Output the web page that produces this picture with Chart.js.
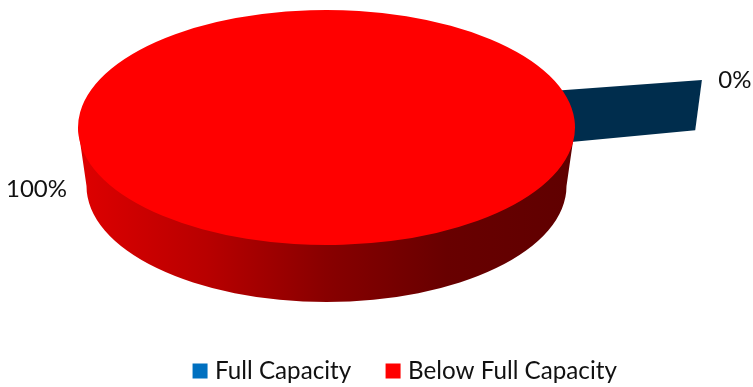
<!DOCTYPE html>
<html>
<head>
<meta charset="utf-8">
<title>Capacity</title>
<style>
    html, body { margin: 0; padding: 0; background: #fff; }
    #wrap { width: 753px; height: 387px; }
</style>
<script src="https://cdn.jsdelivr.net/npm/chart.js@4/dist/chart.umd.min.js"></script>
</head>
<body>
<div id="wrap"><canvas id="capacityChart" width="753" height="387"></canvas></div>
<script>
// Chart values
const categories = ['Full Capacity', 'Below Full Capacity'];
const shares = [0, 100];
const legendColors = ['#0070C0', '#FF0000'];
const sideColor = '#002D4D';

// Disc shape: top face and the slightly narrower bottom face
const topFace = { x: 326.5, y: 127.5, rx: 248.5, ry: 117.5 };
const bottomFace = { x: 326.5, y: 186, rx: 240, ry: 116 };

// Pulled-out side of the empty slice, as polar offsets from its start angle
const sideCorners = [
    { face: topFace, turn: -4.2, reach: 0.931 },
    { face: topFace, turn: 0, reach: 1.564 },
    { face: bottomFace, turn: -2.4, reach: 1.61 },
    { face: bottomFace, turn: -6.2, reach: 0.999 }
];

function onFace(face, angle, reach) {
    return {
        x: face.x + Math.cos(angle) * face.rx * reach,
        y: face.y + Math.sin(angle) * face.ry * reach
    };
}

const disc3d = {
    id: 'disc3d',
    beforeDatasetsDraw(chart) {
        const ctx = chart.ctx;
        const arc = chart.getDatasetMeta(0).data[0];

        // Side of the empty slice
        ctx.beginPath();
        sideCorners.forEach(c => {
            const p = onFace(c.face, arc.startAngle + c.turn * Math.PI / 180, c.reach);
            ctx.lineTo(p.x, p.y);
        });
        ctx.closePath();
        ctx.fillStyle = sideColor;
        ctx.fill();

        // Outer wall of the disc
        const wall = ctx.createLinearGradient(bottomFace.x - bottomFace.rx, 0, bottomFace.x + bottomFace.rx, 0);
        wall.addColorStop(0, '#DC0000');
        wall.addColorStop(0.25, '#B80000');
        wall.addColorStop(0.5, '#880000');
        wall.addColorStop(0.75, '#680000');
        wall.addColorStop(1, '#600000');
        ctx.beginPath();
        ctx.moveTo(topFace.x - topFace.rx, topFace.y);
        ctx.ellipse(bottomFace.x, bottomFace.y, bottomFace.rx, bottomFace.ry, 0, Math.PI, 0, true);
        ctx.lineTo(topFace.x + topFace.rx, topFace.y);
        ctx.closePath();
        ctx.fillStyle = wall;
        ctx.fill();

        // Flatten the round pie onto the top face
        ctx.save();
        ctx.translate(topFace.x, topFace.y);
        ctx.scale(topFace.rx / arc.outerRadius, topFace.ry / arc.outerRadius);
        ctx.translate(-arc.x, -arc.y);
    },
    afterDatasetsDraw(chart) {
        const ctx = chart.ctx;
        ctx.restore();

        const arcs = chart.getDatasetMeta(0).data;
        const tip = onFace(topFace, arcs[0].startAngle, 1.564);
        ctx.fillStyle = '#111';
        ctx.font = '24px Lato';
        ctx.textBaseline = 'middle';
        ctx.textAlign = 'center';
        ctx.fillText(shares[0] + '%', tip.x + 33, tip.y);
        const mid = (arcs[1].startAngle + arcs[1].endAngle) / 2;
        const side = onFace(topFace, mid, 1.2);
        ctx.fillText(shares[1] + '%', side.x - 2, side.y + 25);
    }
};

new Chart(document.getElementById('capacityChart'), {
    type: 'pie',
    data: {
        labels: categories,
        datasets: [{
            data: shares,
            backgroundColor: legendColors,
            borderWidth: 0,
            clip: false
        }]
    },
    options: {
        responsive: false,
        animation: false,
        rotation: 75,
        events: [],
        layout: { padding: { left: 61, bottom: -6 } },
        plugins: {
            tooltip: { enabled: false },
            legend: {
                position: 'bottom',
                labels: {
                    usePointStyle: true,
                    pointStyle: 'rect',
                    boxWidth: 5.8,
                    boxHeight: 15,
                    padding: 39,
                    color: '#111',
                    font: { family: 'Lato', size: 24.2 }
                }
            }
        }
    },
    plugins: [disc3d]
});
</script>
</body>
</html>
